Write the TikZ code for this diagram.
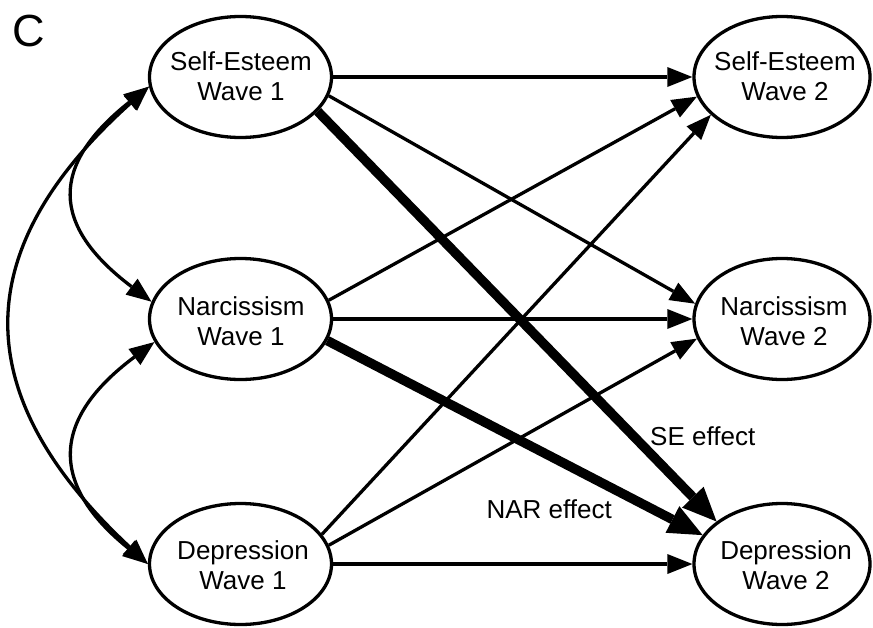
\documentclass[tikz,border=0pt]{standalone}
\usepackage{fontspec}
\setmainfont{Liberation Sans}
\usetikzlibrary{arrows.meta,shapes.geometric}
\begin{document}
\begin{tikzpicture}[x=1pt,y=-1pt,
  var/.style={draw=black, line width=3.3pt, ellipse, minimum width=182pt, minimum height=121pt, inner sep=0pt},
  varR/.style={var, minimum width=176pt},
  lbl/.style={align=center, font=\fontsize{26}{30}\selectfont, inner sep=0pt},
  eff/.style={font=\fontsize{26}{30}\selectfont, inner sep=0pt},
  thinarr/.style={line width=3.3pt, -{Triangle[length=25pt,width=20pt,line width=0pt]}},
  thickarr/.style={line width=9.5pt, -{Triangle[length=34pt,width=30pt,line width=0pt]}},
  corr/.style={line width=3.3pt, {Triangle[length=25pt,width=20pt,line width=0pt]}-{Triangle[length=25pt,width=20pt,line width=0pt]}}
]
\useasboundingbox (0,0) rectangle (873,627);

\node[font=\fontsize{45}{50}\selectfont, inner sep=0pt, anchor=base west] (C) at (12.5,46.5) {C};

\node[var] (SE1) at (240.5,77) {};
\node[var] (N1) at (240.5,319) {};
\node[var] (D1) at (240.5,564) {};
\node[varR] (SE2) at (782,77) {};
\node[varR] (N2) at (782,319) {};
\node[varR] (D2) at (782,564) {};

\node[lbl] (tSE1) at (241,76) {Self-Esteem\\Wave 1};
\node[lbl] (tN1) at (241,321) {Narcissism\\Wave 1};
\node[lbl] (tD1) at (243,565) {Depression\\Wave 1};
\node[lbl] (tSE2) at (785,76) {Self-Esteem\\Wave 2};
\node[lbl] (tN2) at (784,321) {Narcissism\\Wave 2};
\node[lbl] (tD2) at (786,565) {Depression\\Wave 2};

% cross-lagged and stability paths
\draw[thinarr] (SE1.0) -- (SE2.180);
\draw[thinarr] (SE1.-12.7) -- (N2.170.4);
\draw[thinarr] (N1.12.5) -- (SE2.193);
\draw[thinarr] (N1.0) -- (N2.180);
\draw[thinarr] (D1.20.4) -- (SE2.208.7);
\draw[thinarr] (D1.12.5) -- (N2.193);
\draw[thinarr] (D1.0) -- (D2.180);
\draw[thickarr] (SE1.-24.9) -- (D2.147.8);
\draw[thickarr] (N1.-14.6) -- (D2.160.2);

% correlations
\draw[corr] (SE1.186) .. controls (50,165) and (50,225) .. (N1.169);
\draw[corr] (N1.195) .. controls (50,420) and (50,485) .. (D1.180);
\draw[corr] (SE1.186) .. controls (-33,250) and (-33,395) .. (D1.180);

\node[eff, anchor=base west] (lSE) at (650,445) {SE effect};
\node[eff, anchor=base east] (lNAR) at (612,518) {NAR effect};
\end{tikzpicture}
\end{document}
